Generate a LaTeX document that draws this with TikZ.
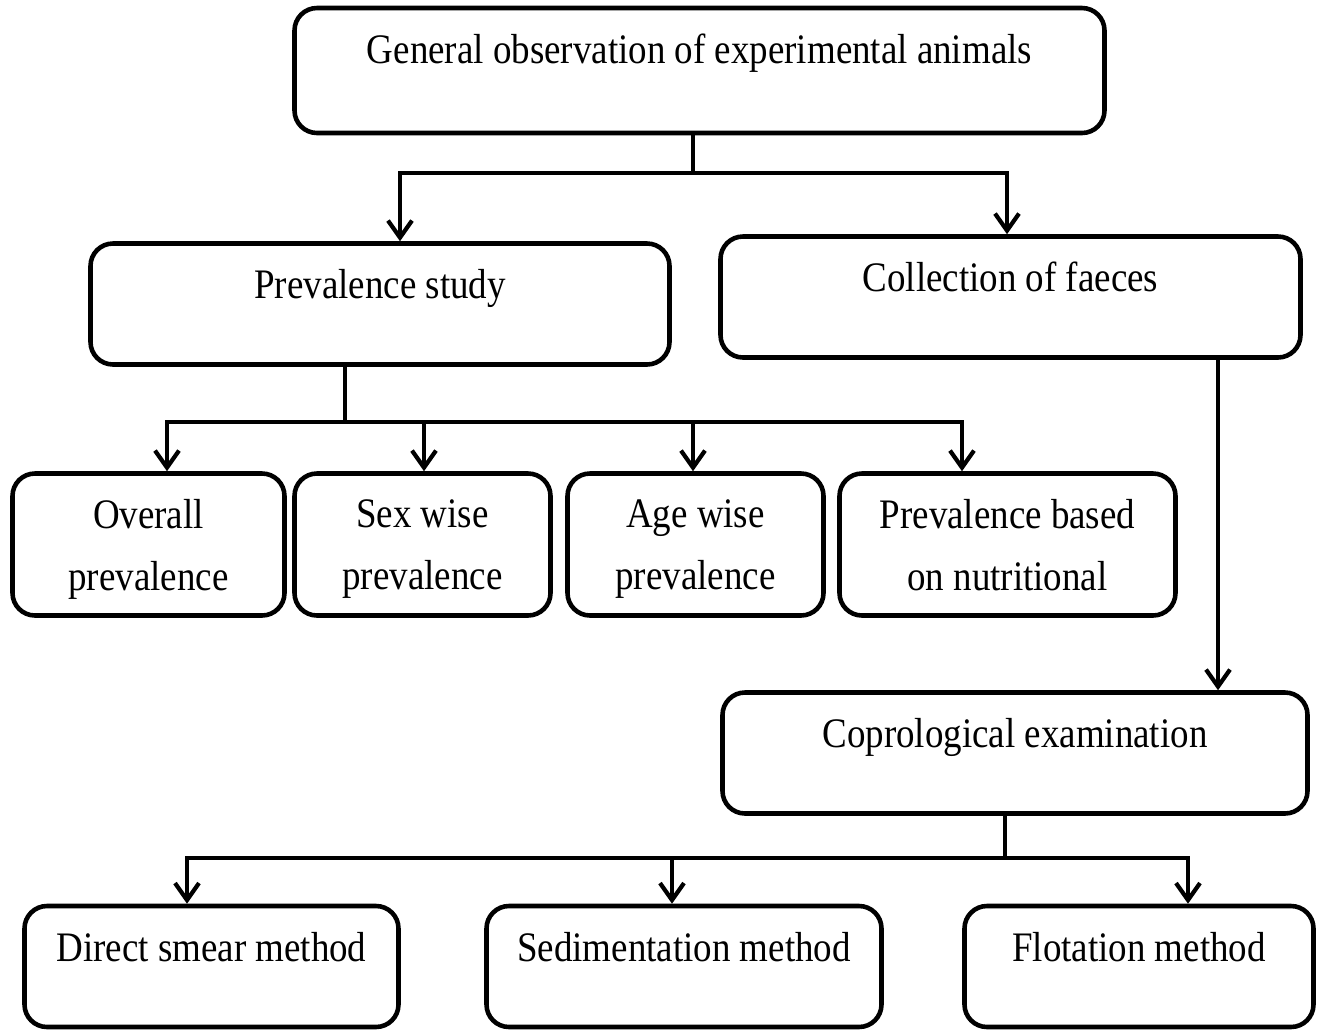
\documentclass[tikz,border=0pt]{standalone}
\usepackage{fontspec}
\setmainfont[FakeStretch=0.88]{Liberation Serif}
\usetikzlibrary{arrows.meta}

\begin{document}
\begin{tikzpicture}[
  every node/.style={font=\fontsize{23.9}{35.3}\selectfont},
  box/.style={rectangle, rounded corners=0.45cm, draw=black, line width=2.6pt,
    fill=white, align=center, inner xsep=0pt, inner ysep=0pt},
  headbox/.style={box, text height=1.1cm, text depth=1.32cm},
  leafbox/.style={box, minimum height=2.84cm, text depth=0pt},
  link/.style={line width=2.4pt},
  arr/.style={link, -{Straight Barb[length=0.34cm, width=0.48cm]}}
]
  \useasboundingbox (0,0) rectangle (26.38,-20.6);

  \node[headbox, minimum width=16.2cm, text depth=1.4cm] (general) at (13.99,-1.41) {General observation of experimental animals};
  \node[headbox, minimum width=11.58cm] (prevalence) at (7.6,-6.08) {Prevalence study};
  \node[headbox, minimum width=11.6cm] (faeces) at (20.21,-5.94) {Collection of faeces};
  \node[leafbox, minimum width=5.44cm] (overall) at (2.97,-10.89) {Overall\\prevalence};
  \node[leafbox, minimum width=5.12cm] (sexwise) at (8.45,-10.89) {Sex wise\\prevalence};
  \node[leafbox, minimum width=5.12cm] (agewise) at (13.91,-10.89) {Age wise\\prevalence};
  \node[leafbox, minimum width=6.72cm] (nutrition) at (20.15,-10.89) {Prevalence based\\on nutritional};
  \node[headbox, minimum width=11.7cm] (copro) at (20.3,-15.06) {Coprological examination};
  \node[headbox, minimum width=7.48cm] (smear) at (4.23,-19.33) {Direct smear method};
  \node[headbox, minimum width=7.9cm] (sediment) at (13.68,-19.33) {Sedimentation method};
  \node[headbox, minimum width=6.98cm] (flotation) at (22.78,-19.33) {Flotation method};

  \coordinate (splitA) at (13.86,-3.46);
  \coordinate (splitB) at (6.9,-8.44);
  \coordinate (splitC) at (20.1,-17.16);

  \draw[link] (general.south -| splitA) -- (splitA);
  \foreach \t/\s in {prevalence/0.4, faeces/-0.07} {
    \draw[arr] (splitA) -| ([xshift=\s cm]\t.north);
  }
  \draw[link] (prevalence.south -| splitB) -- (splitB);
  \foreach \t/\s in {overall/0.37, sexwise/0.03, agewise/-0.05, nutrition/-0.91} {
    \draw[arr] (splitB) -| ([xshift=\s cm]\t.north);
  }
  \draw[arr] ([xshift=4.15cm]faeces.south) -- ([xshift=4.15cm]faeces.south |- copro.north);
  \draw[link] (copro.south -| splitC) -- (splitC);
  \foreach \t/\s in {smear/-0.49, sediment/-0.24, flotation/0.98} {
    \draw[arr] (splitC) -| ([xshift=\s cm]\t.north);
  }
\end{tikzpicture}
\end{document}
